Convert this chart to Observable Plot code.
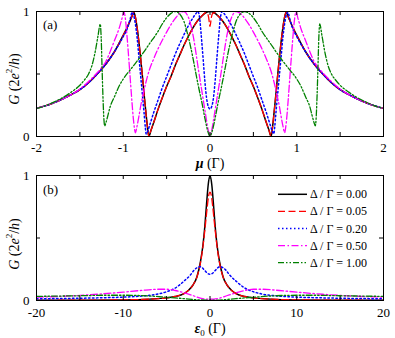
<!DOCTYPE html>
<html><head><meta charset="utf-8">
<script src="https://cdn.jsdelivr.net/npm/d3@7"></script>
<script src="https://cdn.jsdelivr.net/npm/@observablehq/plot@0.6"></script>
<style>
body{margin:0;background:#fff;}
svg{display:block;overflow:visible}
</style></head><body>
<div id="chart"></div>
<script>
// ---------- data ----------
const deltaLabels = ["0.00", "0.05", "0.20", "0.50", "1.00"];

// Panel (a): G vs mu  ([mu, G])
const gMuD000 = [[-2,0.225],[-1.9,0.245],[-1.8,0.27],[-1.7,0.3],[-1.6,0.335],[-1.5,0.375],[-1.4,0.43],[-1.3,0.5],[-1.2,0.58],[-1.1,0.68],[-1,0.81],[-0.95,0.88],[-0.9,0.96],[-0.878,0.995],[-0.86,0.955],[-0.84,0.87],[-0.82,0.76],[-0.8,0.63],[-0.78,0.49],[-0.76,0.34],[-0.74,0.2],[-0.72,0.07],[-0.705,0],[-0.68,0.05],[-0.65,0.11],[-0.6,0.215],[-0.55,0.31],[-0.5,0.4],[-0.45,0.48],[-0.4,0.57],[-0.35,0.65],[-0.3,0.73],[-0.25,0.8],[-0.2,0.865],[-0.15,0.92],[-0.1,0.96],[-0.05,0.99],[0,1],[0.05,0.99],[0.1,0.96],[0.15,0.92],[0.2,0.865],[0.25,0.8],[0.3,0.73],[0.35,0.65],[0.4,0.57],[0.45,0.48],[0.5,0.4],[0.55,0.31],[0.6,0.215],[0.65,0.11],[0.68,0.05],[0.705,0],[0.72,0.07],[0.74,0.2],[0.76,0.34],[0.78,0.49],[0.8,0.63],[0.82,0.76],[0.84,0.87],[0.86,0.955],[0.878,0.995],[0.9,0.96],[0.95,0.88],[1,0.81],[1.1,0.68],[1.2,0.58],[1.3,0.5],[1.4,0.43],[1.5,0.375],[1.6,0.335],[1.7,0.3],[1.8,0.27],[1.9,0.245],[2,0.225]];
const gMuD005 = [[-2,0.225],[-1.9,0.245],[-1.8,0.27],[-1.7,0.3],[-1.6,0.335],[-1.5,0.375],[-1.4,0.43],[-1.3,0.5],[-1.2,0.58],[-1.1,0.68],[-1,0.81],[-0.95,0.88],[-0.9,0.96],[-0.878,0.995],[-0.86,0.955],[-0.84,0.87],[-0.82,0.76],[-0.8,0.63],[-0.78,0.49],[-0.76,0.34],[-0.74,0.2],[-0.72,0.07],[-0.705,0],[-0.68,0.05],[-0.65,0.11],[-0.6,0.215],[-0.55,0.31],[-0.5,0.4],[-0.45,0.48],[-0.4,0.57],[-0.35,0.65],[-0.3,0.73],[-0.25,0.8],[-0.2,0.865],[-0.15,0.92],[-0.1,0.96],[-0.05,0.99],[-0.03,0.985],[-0.015,0.95],[0,0.88],[0.015,0.95],[0.03,0.985],[0.05,0.99],[0.1,0.96],[0.15,0.92],[0.2,0.865],[0.25,0.8],[0.3,0.73],[0.35,0.65],[0.4,0.57],[0.45,0.48],[0.5,0.4],[0.55,0.31],[0.6,0.215],[0.65,0.11],[0.68,0.05],[0.705,0],[0.72,0.07],[0.74,0.2],[0.76,0.34],[0.78,0.49],[0.8,0.63],[0.82,0.76],[0.84,0.87],[0.86,0.955],[0.878,0.995],[0.9,0.96],[0.95,0.88],[1,0.81],[1.1,0.68],[1.2,0.58],[1.3,0.5],[1.4,0.43],[1.5,0.375],[1.6,0.335],[1.7,0.3],[1.8,0.27],[1.9,0.245],[2,0.225]];
const gMuD020 = [[-2,0.225],[-1.9,0.245],[-1.8,0.27],[-1.7,0.3],[-1.6,0.335],[-1.5,0.375],[-1.4,0.43],[-1.3,0.5],[-1.2,0.58],[-1.1,0.68],[-1,0.8],[-0.95,0.87],[-0.92,0.94],[-0.897,0.995],[-0.88,0.97],[-0.86,0.9],[-0.84,0.79],[-0.82,0.64],[-0.8,0.49],[-0.78,0.34],[-0.76,0.19],[-0.745,0.07],[-0.735,0.02],[-0.72,0.04],[-0.7,0.08],[-0.65,0.19],[-0.6,0.29],[-0.55,0.39],[-0.5,0.48],[-0.45,0.57],[-0.4,0.66],[-0.35,0.74],[-0.3,0.815],[-0.25,0.885],[-0.2,0.945],[-0.16,0.985],[-0.14,1],[-0.12,0.95],[-0.1,0.8],[-0.08,0.63],[-0.06,0.45],[-0.04,0.31],[-0.02,0.24],[0,0.22],[0.02,0.24],[0.04,0.31],[0.06,0.45],[0.08,0.63],[0.1,0.8],[0.12,0.95],[0.14,1],[0.16,0.985],[0.2,0.945],[0.25,0.885],[0.3,0.815],[0.35,0.74],[0.4,0.66],[0.45,0.57],[0.5,0.48],[0.55,0.39],[0.6,0.29],[0.65,0.19],[0.7,0.08],[0.72,0.04],[0.735,0.02],[0.745,0.07],[0.76,0.19],[0.78,0.34],[0.8,0.49],[0.82,0.64],[0.84,0.79],[0.86,0.9],[0.88,0.97],[0.897,0.995],[0.92,0.94],[0.95,0.87],[1,0.8],[1.1,0.68],[1.2,0.58],[1.3,0.5],[1.4,0.43],[1.5,0.375],[1.6,0.335],[1.7,0.3],[1.8,0.27],[1.9,0.245],[2,0.225]];
const gMuD050 = [[-2,0.225],[-1.9,0.245],[-1.8,0.27],[-1.7,0.3],[-1.6,0.335],[-1.5,0.38],[-1.4,0.44],[-1.3,0.51],[-1.25,0.55],[-1.2,0.6],[-1.15,0.68],[-1.1,0.77],[-1.05,0.86],[-1.02,0.93],[-0.99,0.995],[-0.975,0.94],[-0.955,0.79],[-0.935,0.61],[-0.916,0.43],[-0.9,0.28],[-0.886,0.16],[-0.872,0.07],[-0.86,0.03],[-0.845,0.07],[-0.82,0.16],[-0.8,0.24],[-0.77,0.34],[-0.74,0.43],[-0.7,0.53],[-0.65,0.62],[-0.6,0.7],[-0.55,0.77],[-0.5,0.835],[-0.45,0.895],[-0.4,0.945],[-0.35,0.985],[-0.3,1],[-0.26,0.97],[-0.22,0.89],[-0.19,0.79],[-0.16,0.66],[-0.13,0.52],[-0.1,0.39],[-0.07,0.26],[-0.045,0.15],[-0.02,0.05],[0,0.01],[0.02,0.05],[0.045,0.15],[0.07,0.26],[0.1,0.39],[0.13,0.52],[0.16,0.66],[0.19,0.79],[0.22,0.89],[0.26,0.97],[0.3,1],[0.35,0.985],[0.4,0.945],[0.45,0.895],[0.5,0.835],[0.55,0.77],[0.6,0.7],[0.65,0.62],[0.7,0.53],[0.74,0.43],[0.77,0.34],[0.8,0.24],[0.82,0.16],[0.845,0.07],[0.86,0.03],[0.872,0.07],[0.886,0.16],[0.9,0.28],[0.916,0.43],[0.935,0.61],[0.955,0.79],[0.975,0.94],[0.99,0.995],[1.02,0.93],[1.05,0.86],[1.1,0.77],[1.15,0.68],[1.2,0.6],[1.25,0.55],[1.3,0.51],[1.4,0.44],[1.5,0.38],[1.6,0.335],[1.7,0.3],[1.8,0.27],[1.9,0.245],[2,0.225]];
const gMuD100 = [[-2,0.225],[-1.9,0.245],[-1.8,0.275],[-1.7,0.31],[-1.6,0.355],[-1.5,0.41],[-1.45,0.45],[-1.4,0.5],[-1.36,0.57],[-1.32,0.69],[-1.29,0.81],[-1.265,0.9],[-1.255,0.8],[-1.243,0.52],[-1.232,0.28],[-1.222,0.13],[-1.214,0.085],[-1.2,0.11],[-1.18,0.16],[-1.15,0.24],[-1.1,0.32],[-1.05,0.4],[-1,0.46],[-0.9,0.55],[-0.8,0.64],[-0.7,0.74],[-0.6,0.84],[-0.55,0.9],[-0.5,0.95],[-0.45,0.985],[-0.4,1],[-0.35,0.98],[-0.3,0.92],[-0.27,0.85],[-0.244,0.78],[-0.2,0.64],[-0.167,0.52],[-0.13,0.39],[-0.09,0.26],[-0.06,0.15],[-0.032,0.06],[-0.015,0.02],[0,0],[0.015,0.02],[0.032,0.06],[0.06,0.15],[0.09,0.26],[0.13,0.39],[0.167,0.52],[0.2,0.64],[0.244,0.78],[0.27,0.85],[0.3,0.92],[0.35,0.98],[0.4,1],[0.45,0.985],[0.5,0.95],[0.55,0.9],[0.6,0.84],[0.7,0.74],[0.8,0.64],[0.9,0.55],[1,0.46],[1.05,0.4],[1.1,0.32],[1.15,0.24],[1.18,0.16],[1.2,0.11],[1.214,0.085],[1.222,0.13],[1.232,0.28],[1.243,0.52],[1.255,0.8],[1.265,0.9],[1.29,0.81],[1.32,0.69],[1.36,0.57],[1.4,0.5],[1.45,0.45],[1.5,0.41],[1.6,0.355],[1.7,0.31],[1.8,0.275],[1.9,0.245],[2,0.225]];

// Panel (b): G vs epsilon0  ([eps0, G])
const gEpsD000 = [[-20,0.0015],[-15,0.0025],[-10,0.005],[-7,0.011],[-5,0.021],[-4,0.032],[-3,0.055],[-2.5,0.08],[-2,0.12],[-1.5,0.19],[-1.1,0.31],[-0.8,0.45],[-0.6,0.59],[-0.4,0.77],[-0.2,0.93],[0,1],[0.2,0.93],[0.4,0.77],[0.6,0.59],[0.8,0.45],[1.1,0.31],[1.5,0.19],[2,0.12],[2.5,0.08],[3,0.055],[4,0.032],[5,0.021],[7,0.011],[10,0.005],[15,0.0025],[20,0.0015]];
const gEpsD005 = [[-20,0.0015],[-15,0.0025],[-10,0.005],[-7,0.011],[-5,0.021],[-4,0.032],[-3,0.055],[-2.5,0.08],[-2,0.12],[-1.5,0.19],[-1.1,0.3],[-0.8,0.44],[-0.6,0.56],[-0.45,0.66],[-0.3,0.76],[-0.15,0.84],[0,0.866],[0.15,0.84],[0.3,0.76],[0.45,0.66],[0.6,0.56],[0.8,0.44],[1.1,0.3],[1.5,0.19],[2,0.12],[2.5,0.08],[3,0.055],[4,0.032],[5,0.021],[7,0.011],[10,0.005],[15,0.0025],[20,0.0015]];
const gEpsD020 = [[-20,0.014],[-16,0.017],[-13,0.021],[-10,0.027],[-8,0.035],[-6,0.052],[-5,0.07],[-4,0.1],[-3,0.155],[-2.25,0.205],[-1.8,0.245],[-1.5,0.262],[-1.15,0.27],[-0.9,0.262],[-0.6,0.24],[-0.3,0.218],[0,0.21],[0.3,0.218],[0.6,0.24],[0.9,0.262],[1.15,0.27],[1.5,0.262],[1.8,0.245],[2.25,0.205],[3,0.155],[4,0.1],[5,0.07],[6,0.052],[8,0.035],[10,0.027],[13,0.021],[16,0.017],[20,0.014]];
const gEpsD050 = [[-20,0.027],[-16,0.037],[-13,0.05],[-10,0.067],[-8,0.08],[-6,0.09],[-5,0.09],[-4,0.08],[-3,0.062],[-2,0.04],[-1,0.017],[0,0.01],[1,0.017],[2,0.04],[3,0.062],[4,0.08],[5,0.09],[6,0.09],[8,0.08],[10,0.067],[13,0.05],[16,0.037],[20,0.027]];
const gEpsD100 = [[-20,0.033],[-15,0.038],[-12,0.042],[-10,0.042],[-7,0.036],[-5,0.026],[-3,0.015],[-1.5,0.006],[0,0.003],[1.5,0.006],[3,0.015],[5,0.026],[7,0.036],[10,0.042],[12,0.042],[15,0.038],[20,0.033]];

// ticks
const muTicks = [-2, -1.5, -1, -0.5, 0, 0.5, 1, 1.5, 2];
const muTickLabels = [-2, -1, 0, 1, 2];
const epsTicks = [-20, -15, -10, -5, 0, 5, 10, 15, 20];
const epsTickLabels = [-20, -10, 0, 10, 20];
const gTicks = [0, 0.5, 1];
const gTickLabels = [0, 1];

// ---------- styles ----------
const seriesStyle = [
  {stroke: "#000000", dash: null, width: 1.5},
  {stroke: "#ff0000", dash: "7,3.5", width: 1.3},
  {stroke: "#0000ff", dash: "1.5,2.5", width: 1.5},
  {stroke: "#ff00ff", dash: "7,2.5,1.5,2.5", width: 1.3},
  {stroke: "#008000", dash: "6,2,1.5,2,1.5,2", width: 1.3}
];
const FONT = "'Liberation Serif', 'Times New Roman', serif";
const W = 395, ML = 36, MR = 12, TICK = 4;
const frameW = W - ML - MR;

function panel({series, xDomain, xTicks, xLabels, height, mt, mb, pad}) {
  const frameH = height - mt - mb;
  const marks = [];
  series.forEach((s, i) => {
    const st = seriesStyle[i];
    marks.push(Plot.line(s, {x: d => d[0], y: d => d[1], stroke: st.stroke,
      strokeWidth: st.width, strokeDasharray: st.dash, curve: "monotone-x", clip: true}));
  });
  marks.push(
    Plot.tickX(xTicks, {x: d => d, insetTop: frameH - TICK, stroke: "black"}),
    Plot.tickX(xTicks, {x: d => d, insetBottom: frameH - TICK, stroke: "black"}),
    Plot.tickY(gTicks, {y: d => d, insetRight: frameW - TICK, stroke: "black"}),
    Plot.tickY(gTicks, {y: d => d, insetLeft: frameW - TICK, stroke: "black"}),
    Plot.axisX({ticks: xLabels, tickSize: 0, tickPadding: pad, tickFormat: d => String(d), label: null, fontSize: 13}),
    Plot.axisY({ticks: gTickLabels, tickSize: 0, tickPadding: 7, tickFormat: d => String(d), label: null, fontSize: 13}),
    Plot.frame({stroke: "black", strokeWidth: 1})
  );
  return Plot.plot({
    width: W, height, marginLeft: ML, marginRight: MR, marginTop: mt, marginBottom: mb,
    x: {domain: xDomain, nice: false},
    y: {domain: [0, 1], nice: false},
    style: {fontFamily: FONT, fontSize: "13px", background: "white", color: "black", overflow: "visible"},
    marks
  });
}

const svgA = panel({series: [gMuD000, gMuD005, gMuD020, gMuD050, gMuD100], xDomain: [-2, 2],
  xTicks: muTicks, xLabels: muTickLabels, height: 168, mt: 11, mb: 32, pad: 6});
const svgB = panel({series: [gEpsD000, gEpsD005, gEpsD020, gEpsD050, gEpsD100], xDomain: [-20, 20],
  xTicks: epsTicks, xLabels: epsTickLabels, height: 170, mt: 7, mb: 38, pad: 7});

const root = document.getElementById("chart");
root.appendChild(svgA);
root.appendChild(svgB);

function yLabel(svg, cy) {
  const t = d3.select(svg).append("text")
    .attr("transform", `translate(14,${cy}) rotate(-90)`)
    .attr("text-anchor", "middle").attr("dominant-baseline", "central")
    .attr("font-family", FONT).attr("font-size", 14).attr("fill", "black");
  t.append("tspan").attr("font-style", "italic").text("G");
  t.append("tspan").text(" (2");
  t.append("tspan").attr("font-style", "italic").text("e");
  t.append("tspan").attr("font-size", 9).attr("dy", -5).text("2");
  t.append("tspan").attr("dy", 5).text("/");
  t.append("tspan").attr("font-style", "italic").text("h");
  t.append("tspan").text(")");
}
yLabel(svgA, 79);
yLabel(svgB, 76);

// x labels
{
  const t = d3.select(svgA).append("text").attr("x", 210).attr("y", 168)
    .attr("text-anchor", "middle").attr("font-family", FONT).attr("font-size", 14);
  t.append("tspan").attr("font-style", "italic").attr("font-weight", "bold").text("μ");
  t.append("tspan").text(" (Γ)");
}
{
  const t = d3.select(svgB).append("text").attr("x", 210).attr("y", 165)
    .attr("text-anchor", "middle").attr("font-family", FONT).attr("font-size", 14);
  t.append("tspan").attr("font-style", "italic").attr("font-weight", "bold").text("ε");
  t.append("tspan").attr("font-size", 9).attr("dy", 3).text("0");
  t.append("tspan").attr("dy", -3).text(" (Γ)");
}
// panel tags
d3.select(svgA).append("text").attr("x", 43).attr("y", 29).attr("text-anchor", "start")
  .attr("font-family", FONT).attr("font-size", 13).text("(a)");
d3.select(svgB).append("text").attr("x", 43).attr("y", 26).attr("text-anchor", "start")
  .attr("font-family", FONT).attr("font-size", 13).text("(b)");

// legend
const lg = d3.select(svgB).append("g").attr("text-anchor", "start");
deltaLabels.forEach((lab, i) => {
  const st = seriesStyle[i];
  const y = 26.3 + i * 17.1;
  lg.append("line").attr("x1", 278).attr("x2", 307).attr("y1", y).attr("y2", y)
    .attr("stroke", st.stroke).attr("stroke-width", st.width)
    .attr("stroke-dasharray", st.dash);
  lg.append("text").attr("x", 310).attr("y", y + 4).attr("text-anchor", "start")
    .attr("font-family", FONT).attr("font-size", 12).text(`Δ / Γ = ${lab}`);
});
</script>
</body></html>
